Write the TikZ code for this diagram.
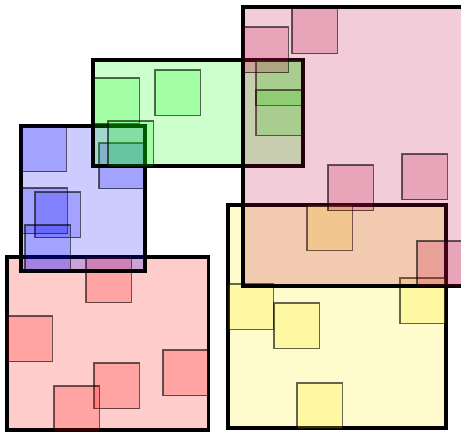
\documentclass[tikz,border=0pt]{standalone}

\definecolor{boxred}{RGB}{255,0,0}
\definecolor{boxblue}{RGB}{0,0,255}
\definecolor{boxgreen}{RGB}{0,255,0}
\definecolor{boxyellow}{RGB}{255,235,0}
\definecolor{boxpink}{RGB}{192,5,65}

\tikzset{
    bigbox/.style={draw=black, line width=2pt, fill opacity=0.2},
    smallbox/.style={draw=black, draw opacity=0.6, line width=0.6pt, fill opacity=0.2}
}

\begin{document}
\begin{tikzpicture}[x=0.02cm, y=-0.02cm]
    \def\sq{45.5}
    \useasboundingbox (0,0) rectangle (461,433);
    \clip (0,0) rectangle (461,433);

    % Kotak merah
    \draw[bigbox, fill=boxred] (7,257) rectangle (208.5,430);
    \foreach \x/\y in {86/257, 7/316, 163/350, 94/363, 54/386} {
        \draw[smallbox, fill=boxred] (\x,\y) rectangle ++(\sq,\sq);
    }

    % Kotak biru
    \draw[bigbox, fill=boxblue] (21,126) rectangle (145,271);
    \foreach \x/\y in {21/126, 99/143, 22/188, 35/192, 25/225} {
        \draw[smallbox, fill=boxblue] (\x,\y) rectangle ++(\sq,\sq);
    }

    % Kotak hijau
    \draw[bigbox, fill=boxgreen] (93,60) rectangle (303,166);
    \foreach \x/\y in {94/78, 155/70, 108/121, 256/60, 256/90} {
        \draw[smallbox, fill=boxgreen] (\x,\y) rectangle ++(\sq,\sq);
    }

    % Kotak kuning
    \draw[bigbox, fill=boxyellow] (228,205) rectangle (446,428);
    \foreach \x/\y in {307/205, 228/284, 274/303, 400/278, 297/383} {
        \draw[smallbox, fill=boxyellow] (\x,\y) rectangle ++(\sq,\sq);
    }

    % Kotak merah muda
    \draw[bigbox, fill=boxpink] (243,7) rectangle (480,286);
    \foreach \x/\y in {243/27, 292/8, 328/165, 402/154, 417/241} {
        \draw[smallbox, fill=boxpink] (\x,\y) rectangle ++(\sq,\sq);
    }

\end{tikzpicture}
\end{document}
